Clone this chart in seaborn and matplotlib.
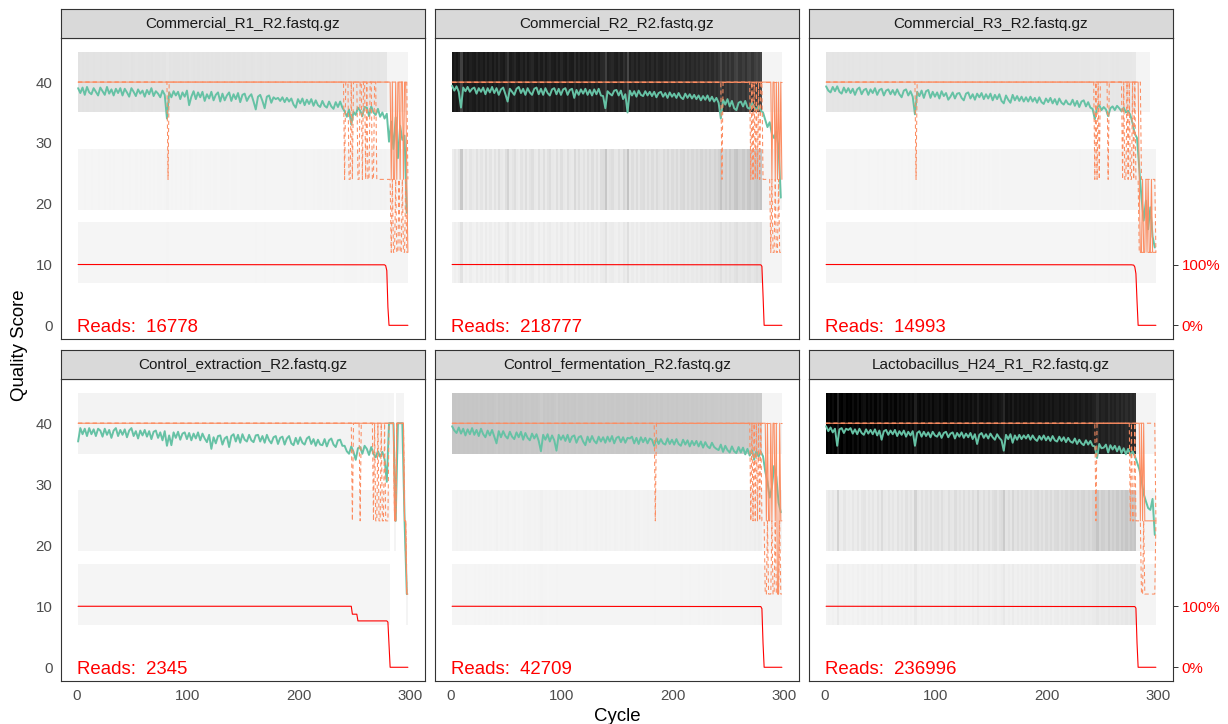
import numpy as np
import matplotlib
matplotlib.use("Agg")
import matplotlib.pyplot as plt
from matplotlib.colors import ListedColormap, Normalize
import seaborn as sns

# ---------------------------------------------------------------- data
files = ["Commercial_R1_R2.fastq.gz", "Commercial_R2_R2.fastq.gz", "Commercial_R3_R2.fastq.gz",
         "Control_extraction_R2.fastq.gz", "Control_fermentation_R2.fastq.gz",
         "Lactobacillus_H24_R1_R2.fastq.gz"]
read_counts = [16778, 218777, 14993, 2345, 42709, 236996]

# mean quality, read at every second cycle (1, 3, ..., 297)
mean_cycles = list(range(1, 298, 2))
mean_commercial_r1 = [
    39.0, 38.2, 39.1, 37.9, 39.2, 38.3, 38.0, 39.0, 38.4, 37.8,
    39.1, 38.5, 37.9, 39.2, 38.1, 38.8, 37.8, 38.9, 38.2, 39.0,
    37.8, 38.9, 38.3, 37.6, 39.0, 38.4, 37.7, 38.8, 38.1, 38.6,
    37.6, 38.7, 38.0, 39.0, 37.7, 38.5, 38.1, 37.5, 38.6, 37.9,
    34.0, 38.3, 37.5, 38.5, 37.8, 38.4, 37.2, 38.3, 37.6, 38.6,
    36.2, 37.6, 38.5, 37.2, 38.3, 37.5, 38.4, 36.9, 38.0, 37.3,
    38.4, 37.0, 37.9, 38.3, 36.8, 38.1, 37.0, 37.8, 38.3, 36.9,
    38.0, 37.2, 38.2, 36.7, 37.9, 38.1, 36.9, 37.6, 38.0, 36.8,
    35.5, 37.6, 37.9, 36.9, 35.7, 37.6, 37.8, 36.6, 37.5, 37.2,
    37.4, 36.9, 37.5, 36.7, 37.4, 36.8, 37.3, 36.3, 35.8, 37.2,
    36.5, 37.3, 36.2, 37.1, 36.4, 37.2, 36.1, 37.0, 36.2, 35.9,
    36.9, 36.1, 35.8, 36.8, 36.0, 35.6, 36.7, 35.9, 36.8, 35.8,
    35.2, 34.3, 35.5, 33.0, 35.1, 34.6, 35.8, 35.3, 34.4, 35.9,
    35.8, 34.4, 36.0, 35.0, 34.6, 35.6, 34.3, 35.0, 34.0, 34.8,
    30.2, 33.5, 29.0, 34.2, 27.5, 32.8, 30.5, 31.2, 18.5]
mean_commercial_r2 = [
    39.4, 38.6, 39.3, 38.4, 35.8, 39.1, 38.5, 39.2, 38.4, 38.9,
    39.1, 38.1, 39.0, 38.4, 39.1, 38.0, 39.0, 38.3, 39.2, 38.2,
    39.0, 37.9, 38.8, 39.1, 38.0, 36.8, 38.9, 38.4, 37.9, 38.9,
    39.2, 38.2, 38.9, 37.9, 39.0, 38.3, 37.9, 38.9, 39.1, 38.0,
    38.9, 37.9, 39.0, 38.2, 37.8, 38.8, 39.0, 38.0, 38.9, 37.9,
    38.8, 39.0, 37.9, 38.7, 38.9, 37.4, 38.7, 37.9, 38.8, 38.1,
    38.9, 37.9, 38.7, 37.8, 38.8, 38.0, 38.9, 37.8, 37.7, 35.7,
    38.5, 38.1, 37.8, 38.6, 38.7, 37.8, 38.6, 37.2, 38.0, 35.0,
    38.6, 37.8, 38.5, 37.6, 38.6, 37.9, 37.7, 38.5, 37.8, 38.4,
    37.7, 38.4, 37.5, 38.2, 38.4, 37.6, 38.2, 37.4, 38.3, 37.6,
    38.1, 37.4, 38.2, 37.5, 37.2, 38.1, 37.4, 38.0, 37.3, 37.9,
    37.2, 37.8, 37.0, 37.7, 37.1, 37.8, 36.9, 37.6, 36.8, 37.4,
    36.6, 34.0, 37.1, 36.3, 37.2, 36.0, 36.9, 35.7, 35.4, 36.6,
    36.8, 36.0, 36.9, 35.8, 35.6, 36.6, 35.9, 35.4, 36.1, 35.3,
    35.0, 33.8, 32.6, 33.4, 31.5, 30.8, 31.9, 29.2, 21.0]
mean_commercial_r3 = [
    39.3, 38.6, 38.3, 39.2, 38.5, 39.3, 38.4, 38.1, 39.1, 38.3,
    39.0, 38.2, 38.9, 37.9, 38.8, 39.1, 38.0, 38.7, 38.9, 37.9,
    38.8, 38.2, 39.0, 37.9, 38.7, 38.9, 37.8, 38.6, 38.8, 38.0,
    38.7, 37.9, 38.8, 38.0, 37.5, 38.6, 38.8, 37.8, 38.5, 37.6,
    34.7, 38.4, 37.7, 38.6, 37.4, 38.5, 38.7, 37.4, 38.4, 37.6,
    38.3, 37.3, 38.5, 37.7, 38.2, 37.1, 37.6, 38.3, 37.3, 38.1,
    38.2, 37.4, 37.0, 38.1, 38.3, 37.3, 38.0, 37.1, 38.1, 37.5,
    38.2, 37.2, 38.0, 37.3, 38.1, 37.0, 37.9, 37.2, 38.0, 36.9,
    36.5, 37.8, 37.1, 36.6, 37.9, 37.0, 37.7, 36.9, 37.6, 36.8,
    37.5, 36.8, 37.6, 36.8, 37.4, 36.6, 37.5, 36.7, 36.4, 37.3,
    36.7, 37.4, 36.5, 37.2, 36.3, 37.3, 36.6, 36.3, 37.0, 36.4,
    36.3, 37.1, 36.1, 36.9, 35.9, 36.8, 37.0, 36.0, 36.7, 35.8,
    35.6, 33.9, 35.8, 36.2, 35.4, 35.9, 35.5, 34.4, 35.7, 36.0,
    35.4, 36.1, 35.7, 35.2, 35.8, 35.0, 35.3, 34.6, 33.2, 31.5,
    30.8, 25.9, 21.0, 17.2, 20.5, 15.8, 19.4, 14.6, 12.8]
mean_control_extraction = [
    37.0, 39.2, 38.2, 39.1, 37.9, 39.2, 38.2, 39.0, 37.9, 39.1,
    38.8, 37.8, 39.1, 38.1, 38.9, 37.6, 38.8, 39.2, 37.9, 38.9,
    38.1, 39.0, 37.7, 38.8, 39.2, 37.9, 38.7, 37.5, 38.8, 38.0,
    38.9, 37.8, 38.7, 37.4, 38.6, 38.8, 37.6, 38.5, 37.2, 38.7,
    36.3, 38.0, 36.4, 38.5, 37.6, 38.6, 37.3, 38.3, 38.5, 37.4,
    38.4, 37.2, 38.3, 37.5, 38.5, 37.2, 38.3, 37.5, 36.9, 38.1,
    35.8, 37.7, 36.7, 37.9, 38.0, 36.5, 37.5, 37.8, 36.1, 37.9,
    38.2, 37.0, 38.1, 36.8, 38.2, 37.3, 37.0, 38.1, 37.2, 36.9,
    38.0, 38.1, 37.0, 37.9, 36.8, 38.1, 37.2, 36.7, 37.7, 37.9,
    36.6, 37.6, 37.8, 36.5, 37.5, 37.9, 36.7, 36.4, 37.6, 36.6,
    37.7, 36.8, 36.5, 37.5, 37.8, 36.6, 37.4, 36.3, 37.3, 36.5,
    36.4, 37.4, 36.2, 37.2, 37.5, 36.5, 36.1, 37.2, 37.3, 36.3,
    36.3, 35.4, 35.0, 36.2, 35.3, 34.0, 35.9, 36.1, 35.0, 36.3,
    35.8, 34.8, 36.1, 35.0, 34.4, 35.4, 34.5, 35.3, 34.1, 30.4,
    40.0, 40.0, 40.0, 24.0, 40.0, 40.0, 40.0, 24.0, 12.0]
mean_control_fermentation = [
    39.5, 38.8, 38.4, 39.3, 38.3, 39.1, 38.0, 39.0, 38.2, 39.2,
    38.1, 38.9, 37.9, 39.1, 38.2, 37.7, 38.8, 38.0, 38.9, 37.8,
    36.7, 38.7, 37.7, 38.7, 37.9, 37.5, 38.6, 37.8, 37.4, 38.5,
    37.7, 38.6, 37.3, 38.4, 37.6, 37.2, 38.3, 37.5, 38.2, 37.1,
    35.4, 38.1, 37.3, 38.2, 37.0, 38.0, 37.2, 35.5, 38.1, 37.3,
    38.0, 37.1, 38.1, 36.9, 37.8, 38.0, 36.8, 37.7, 37.9, 37.0,
    36.4, 37.8, 36.9, 37.9, 37.1, 36.7, 37.8, 37.0, 37.7, 36.8,
    37.8, 37.0, 37.9, 36.7, 37.6, 37.8, 36.9, 37.7, 36.8, 37.6,
    37.5, 37.8, 36.7, 37.6, 36.6, 37.7, 36.9, 37.6, 36.7, 37.5,
    37.3, 36.3, 37.5, 36.6, 37.4, 36.7, 36.5, 37.5, 36.6, 37.3,
    36.5, 37.4, 36.6, 36.3, 37.3, 36.5, 37.2, 36.2, 37.1, 36.4,
    37.1, 36.2, 37.0, 36.0, 36.9, 36.2, 35.9, 36.8, 36.1, 35.8,
    35.6, 36.5, 35.3, 36.3, 35.6, 35.2, 36.2, 35.4, 35.1, 36.1,
    35.2, 36.0, 34.9, 35.8, 34.7, 35.6, 34.0, 35.4, 34.5, 35.3,
    34.6, 32.1, 30.4, 27.8, 29.5, 33.0, 31.2, 27.0, 25.4]
mean_lactobacillus = [
    39.5, 38.7, 39.3, 38.5, 39.1, 36.3, 39.0, 39.2, 38.4, 39.1,
    38.9, 39.2, 38.3, 39.0, 38.2, 39.1, 38.4, 38.1, 39.0, 38.3,
    38.9, 38.2, 39.0, 38.0, 38.8, 37.3, 38.7, 38.9, 38.1, 38.8,
    38.2, 38.9, 37.9, 38.7, 38.1, 38.8, 37.8, 38.6, 38.0, 38.7,
    36.3, 38.4, 38.7, 37.8, 38.6, 37.9, 38.5, 37.7, 38.6, 38.0,
    37.8, 38.5, 37.6, 38.4, 38.6, 37.7, 38.3, 38.5, 37.5, 38.4,
    37.8, 38.5, 37.6, 38.3, 37.7, 38.4, 37.4, 38.2, 36.6, 38.1,
    38.4, 37.6, 38.2, 37.5, 38.3, 37.7, 37.3, 38.2, 37.6, 37.2,
    35.5, 38.1, 37.4, 38.2, 36.8, 38.0, 37.3, 38.1, 37.4, 38.0,
    37.5, 38.1, 37.3, 38.0, 37.4, 37.1, 37.9, 37.3, 38.0, 37.2,
    37.8, 37.1, 37.9, 37.2, 37.0, 37.8, 37.1, 37.7, 36.9, 37.6,
    37.0, 36.8, 37.5, 36.6, 37.3, 36.7, 36.4, 37.2, 36.5, 37.1,
    36.3, 36.2, 34.3, 36.6, 35.9, 36.0, 36.5, 35.2, 36.4, 35.7,
    36.3, 35.4, 36.2, 35.1, 35.9, 34.9, 35.8, 34.7, 35.4, 34.6,
    33.6, 32.5, 30.8, 28.4, 27.2, 26.1, 25.8, 27.6, 21.7]
mean_series = [mean_commercial_r1, mean_commercial_r2, mean_commercial_r3,
               mean_control_extraction, mean_control_fermentation, mean_lactobacillus]

# cycles (before 281) where the 25th percentile falls to Q24
q25_dips = [
    [82, 241, 245, 246, 248, 253, 254, 257, 260, 262, 263, 266, 267,
     270, 271, 272, 273, 274, 275, 276, 277, 278, 279, 280],
    [244, 270, 272, 274, 276, 278],
    [82, 243, 245, 247, 255, 268, 270, 271, 273, 275, 276, 278, 280],
    [248, 255, 267, 269, 270, 272, 273, 275, 276, 278, 279, 280],
    [184, 270, 272, 274, 276, 278, 280],
    [244, 275, 277, 278, 280],
]
# cycles 281..298: median, 25th and 75th percentile
tail_median = [
    [40, 40, 24, 40, 24, 24, 40, 24, 40, 40, 24, 40, 40, 24, 40, 40, 24, 12],
    [40, 40, 40, 40, 40, 40, 40, 40, 24, 40, 40, 24, 40, 24, 40, 24, 40, 24],
    [40, 40, 24, 12, 12, 24, 12, 12, 24, 12, 24, 12, 12, 24, 12, 12, 12, 12],
    [40, 40, 40, 40, 40, 24, 24, 40, 40, 40, 40, 40, 40, 40, 24, 24, 12, 12],
    [40, 40, 40, 24, 40, 24, 24, 40, 24, 40, 40, 24, 40, 12, 12, 40, 24, 24],
    [40, 40, 40, 24, 40, 24, 40, 24, 24, 24, 24, 24, 24, 24, 24, 24, 24, 24],
]
tail_q25 = [
    [24, 24, 12, 24, 12, 12, 24, 12, 12, 24, 12, 12, 24, 12, 12, 24, 12, 12],
    [24, 24, 24, 24, 24, 24, 24, 12, 24, 12, 12, 24, 12, 12, 24, 12, 12, 12],
    [24, 24, 12, 12, 12, 12, 12, 12, 12, 12, 12, 12, 12, 12, 12, 12, 12, 12],
    [40, 40, 40, 40, 40, 24, 24, 40, 40, 40, 40, 40, 40, 40, 24, 24, 12, 12],
    [24, 24, 12, 12, 24, 12, 12, 12, 24, 12, 12, 24, 12, 12, 12, 24, 12, 12],
    [24, 24, 24, 24, 12, 12, 24, 12, 12, 12, 12, 12, 12, 12, 12, 12, 12, 24],
]
tail_q75 = [
    [40, 40, 40, 40, 40, 40, 40, 40, 40, 40, 40, 40, 40, 40, 40, 40, 40, 24],
    [40, 40, 40, 40, 40, 40, 40, 40, 40, 40, 40, 40, 40, 40, 40, 40, 40, 40],
    [40, 40, 40, 40, 24, 24, 24, 24, 24, 24, 24, 24, 24, 24, 24, 24, 24, 12],
    [40, 40, 40, 40, 40, 24, 24, 40, 40, 40, 40, 40, 40, 40, 24, 24, 12, 12],
    [40, 40, 40, 40, 40, 40, 40, 40, 40, 40, 40, 40, 40, 40, 40, 40, 40, 40],
    [40, 40, 40, 40, 40, 40, 40, 40, 40, 40, 40, 40, 40, 40, 40, 40, 40, 24],
]

# fraction of reads reaching each cycle (breakpoints)
cum_cycles = [
    [1, 277, 278, 279, 280, 281, 298],
    [1, 279, 280, 281, 282, 298],
    [1, 276, 278, 279, 280, 281, 282, 298],
    [1, 247, 248, 252, 253, 279, 280, 282, 298],
    [1, 279, 280, 281, 282, 298],
    [1, 279, 280, 281, 282, 298],
]
cum_fraction = [
    [1.0, 0.995, 0.98, 0.90, 0.30, 0.0, 0.0],
    [1.0, 0.995, 0.97, 0.50, 0.0, 0.0],
    [1.0, 0.995, 0.99, 0.96, 0.85, 0.40, 0.0, 0.0],
    [1.0, 1.0, 0.87, 0.87, 0.76, 0.76, 0.74, 0.0, 0.0],
    [1.0, 0.995, 0.96, 0.40, 0.0, 0.0],
    [1.0, 0.995, 0.97, 0.40, 0.0, 0.0],
]

# quality-score heat-map tiles
score_bins = [40, 24, 12]
frac24_base = [0.07, 0.078, 0.07, 0.07, 0.07, 0.068]
frac12_base = [0.03, 0.034, 0.03, 0.03, 0.03, 0.022]
main_end = [279, 280, 280, 281, 280, 280]
tail_counts = [1500, 1600, 1500, 1400, 1500, 1600]
tail_ranges = [  # per bin (40, 24, 12): list of (first, last) cycles
    [[(280, 298)], [(280, 298)], [(280, 298)]],
    [[(281, 298)], [(281, 298)], [(281, 298)]],
    [[(281, 292)], [(281, 298)], [(281, 298)]],
    [[(282, 285), (288, 294)], [(286, 287), (295, 296)], [(297, 298)]],
    [[(281, 298)], [(281, 298)], [(281, 298)]],
    [[(281, 298)], [(281, 298)], [(281, 298)]],
]

n_cycles = 298
cycles_all = np.arange(1, n_cycles + 1)

# ---------------------------------------------------------------- style
sns.set_theme(style="white")
plt.rcParams["font.family"] = ["Liberation Sans", "DejaVu Sans"]

W, H = 1228, 724
fig = plt.figure(figsize=(W / 100, H / 100), dpi=100)


def rect(x0, y0, x1, y1):
    return [x0 / W, 1 - y1 / H, (x1 - x0) / W, (y1 - y0) / H]


cols = [(61, 425), (435, 799), (809, 1173)]
rows = [(38, 339), (379, 681)]
strips = [(9, 38), (350, 379)]


def lab_gray(t):
    L = 96.55 * (1 - t)
    Y = np.where(L > 8, ((L + 16) / 116) ** 3, L / 903.3)
    s = np.where(Y > 0.0031308, 1.055 * Y ** (1 / 2.4) - 0.055, 12.92 * Y)
    return np.clip(s, 0, 1)


tvals = np.linspace(0, 1, 256)
g = lab_gray(tvals)
cmap = ListedColormap(np.stack([g, g, g, np.ones_like(g)], axis=1))


def tile_matrix(i):
    N = read_counts[i]
    m = np.repeat(np.array(mean_series[i]), 2)
    m = np.concatenate([m, m[-1:]])[:n_cycles]
    typical = np.median(np.array(mean_series[i][:130]))
    dev = np.clip((40 - m) / (40 - typical), 0.4, 2.5)
    f24 = frac24_base[i] * dev
    f12 = frac12_base[i] * dev
    f40 = 1 - f24 - f12
    C = np.full((5, n_cycles), np.nan)
    me = main_end[i]
    C[4, :me] = N * f40[:me]
    C[2, :me] = N * f24[:me]
    C[0, :me] = N * f12[:me]
    for row, ranges in zip([4, 2, 0], tail_ranges[i]):
        for a, b in ranges:
            C[row, a - 1:b] = tail_counts[i]
    return C


mats = [tile_matrix(i) for i in range(6)]
vmax = max(np.nanmax(M) for M in mats)
norm = Normalize(0, vmax)
x_edges = np.arange(0.5, n_cycles + 1.0, 1.0)
y_edges = [7, 17, 19, 29, 35, 45]

border = "#333333"
for i, fname in enumerate(files):
    r, c = divmod(i, 3)
    x0, x1 = cols[c]
    y0, y1 = rows[r]
    ax = fig.add_axes(rect(x0, y0, x1, y1))
    ax.set_facecolor("white")

    ax.pcolormesh(x_edges, y_edges, np.ma.masked_invalid(mats[i]), cmap=cmap, norm=norm,
                  shading="flat", edgecolors="none", linewidth=0, zorder=1)

    sns.lineplot(x=mean_cycles, y=mean_series[i], ax=ax, color="#66C2A5",
                 linewidth=1.4, estimator=None, zorder=2)

    q25 = np.full(n_cycles, 40.0)
    for cy in q25_dips[i]:
        q25[cy - 1] = 24.0
    q25[280:] = tail_q25[i]
    q50 = np.full(n_cycles, 40.0)
    q50[280:] = tail_median[i]
    q75 = np.full(n_cycles, 40.0)
    q75[280:] = tail_q75[i]

    sns.lineplot(x=cycles_all, y=q25, ax=ax, color="#FC8D62", linewidth=0.75,
                 linestyle=(0, (4, 3)), estimator=None, zorder=3)
    sns.lineplot(x=cycles_all, y=q50, ax=ax, color="#FC8D62", linewidth=0.75,
                 estimator=None, zorder=3)
    sns.lineplot(x=cycles_all, y=q75, ax=ax, color="#FC8D62", linewidth=0.75,
                 linestyle=(0, (4, 3)), estimator=None, zorder=3)
    sns.lineplot(x=cum_cycles[i], y=np.array(cum_fraction[i]) * 10, ax=ax, color="red",
                 linewidth=0.8, estimator=None, zorder=4)

    ax.text(0, -1.15, f"Reads:  {read_counts[i]}", color="red", fontsize=13.4,
            ha="left", va="baseline", zorder=5)

    ax.set_xlim(-14.4, 313.4)
    ax.set_ylim(-2.25, 47.25)
    ax.set_xlabel("")
    ax.set_ylabel("")
    ax.grid(False)
    for sp in ax.spines.values():
        sp.set_color(border)
        sp.set_linewidth(0.8)
        sp.set_visible(True)

    ax.tick_params(axis="both", which="both", length=3.6, width=0.7, color=border,
                   labelcolor="#4D4D4D", labelsize=10.8, pad=2.5)
    if r == 1:
        ax.set_xticks([0, 100, 200, 300])
        ax.set_xticklabels(["0", "100", "200", "300"])
    else:
        ax.set_xticks([])
    if c == 0:
        ax.set_yticks([0, 10, 20, 30, 40])
        ax.set_yticklabels(["0", "10", "20", "30", "40"])
    elif c == 2:
        ax.yaxis.tick_right()
        ax.set_yticks([0, 10])
        ax.set_yticklabels(["0%", "100%"])
        ax.tick_params(axis="y", labelcolor="red")
    else:
        ax.set_yticks([])

    sy0, sy1 = strips[r]
    sax = fig.add_axes(rect(x0, sy0, x1, sy1))
    sax.set_facecolor("#D9D9D9")
    sax.set_xticks([])
    sax.set_yticks([])
    for sp in sax.spines.values():
        sp.set_color(border)
        sp.set_linewidth(0.8)
        sp.set_visible(True)
    sax.text(0.5, 0.47, fname, transform=sax.transAxes, ha="center", va="center",
             fontsize=11, color="#1A1A1A")

fig.text(20 / W, 1 - 345 / H, "Quality Score", rotation=90, ha="center", va="center",
         fontsize=13.4, color="black")
fig.text(617 / W, 1 - 721 / H, "Cycle", ha="center", va="baseline",
         fontsize=13.4, color="black")

fig.savefig("out.png", dpi=100)
